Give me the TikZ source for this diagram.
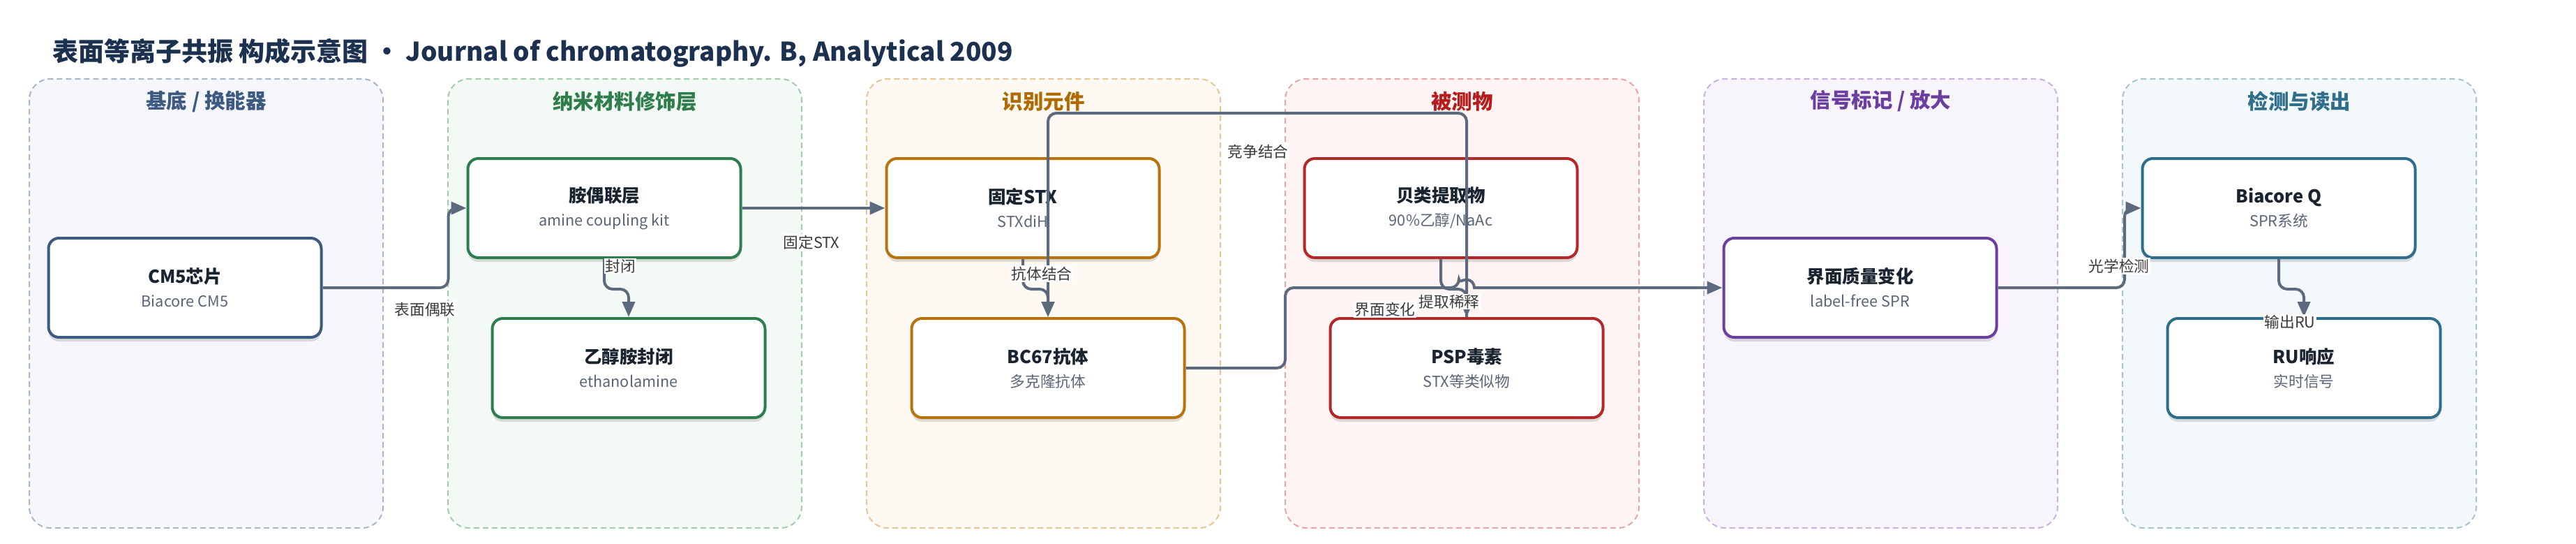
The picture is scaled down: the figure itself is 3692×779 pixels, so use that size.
\documentclass[tikz,border=0pt]{standalone}
\usepackage{fontspec}
\setmainfont{Noto Sans CJK SC}
\usetikzlibrary{arrows.meta,shadows}
\definecolor{edgec}{HTML}{5D6A7E}
\definecolor{labc}{HTML}{3A3A3A}
\definecolor{titc}{HTML}{1C3050}
\definecolor{ntc}{HTML}{1A2330}
\definecolor{subc}{HTML}{5B6578}
\definecolor{laneAf}{HTML}{F5F7FB}\definecolor{laneAd}{HTML}{AAB6C9}\definecolor{laneAt}{HTML}{3D5A80}
\definecolor{laneBf}{HTML}{F3F9F5}\definecolor{laneBd}{HTML}{A3CCAE}\definecolor{laneBt}{HTML}{2E7D4A}
\definecolor{laneCf}{HTML}{FEF9F2}\definecolor{laneCd}{HTML}{E8C592}\definecolor{laneCt}{HTML}{B26A00}
\definecolor{laneDf}{HTML}{FDF4F3}\definecolor{laneDd}{HTML}{E8A6A6}\definecolor{laneDt}{HTML}{B71C1C}
\definecolor{laneEf}{HTML}{F8F4FC}\definecolor{laneEd}{HTML}{C8B3E0}\definecolor{laneEt}{HTML}{6A3FA0}
\definecolor{laneFf}{HTML}{F3F8FA}\definecolor{laneFd}{HTML}{A8C4CE}\definecolor{laneFt}{HTML}{2F6F8C}
\definecolor{nA}{HTML}{3D5A80}
\definecolor{nB}{HTML}{2E7D4F}
\definecolor{nC}{HTML}{B8730D}
\definecolor{nD}{HTML}{B3282A}
\definecolor{nE}{HTML}{6B3FA0}
\definecolor{nF}{HTML}{2E6E8C}
\newcommand{\nodetext}[2]{{\fontsize{25.5}{34}\selectfont\bfseries\color{ntc}#1}\\{\fontsize{21.7}{34}\selectfont\color{subc}#2}}
\tikzset{
  lanebox/.style n args={2}{draw=#1, fill=#2, line width=2pt, dash pattern=on 8pt off 5pt, rounded corners=30pt},
  lanetitle/.style={font=\fontsize{29.5}{34}\selectfont\bfseries, text=#1},
  nbox/.style={draw=#1, fill=white, line width=4pt, rounded corners=15pt, minimum width=391pt, minimum height=142pt, align=center, inner sep=0pt, font=\fontsize{21.7}{34}\selectfont, drop shadow={shadow xshift=0pt, shadow yshift=-6pt, opacity=0.12, fill=black}},
  conn/.style={draw=edgec, line width=4pt, rounded corners=12pt, -{Triangle[length=22pt,width=18pt]}},
  lab/.style={fill=white, inner sep=1.5pt, font=\fontsize{21.7}{26}\selectfont, text=labc},
}
\begin{document}
\begin{tikzpicture}[x=1pt,y=-1pt]
\useasboundingbox (0,0) rectangle (3692,779);
\fill[white] (0,0) rectangle (3692,779);
% title
\node[anchor=west, inner sep=0pt, font=\fontsize{37}{42}\selectfont\bfseries, text=titc] (title) at (75,76) {表面等离子共振 构成示意图 · Journal of chromatography. B, Analytical 2009};
% lanes
\draw[lanebox={laneAd}{laneAf}] (42,113) rectangle (549,756);
\draw[lanebox={laneBd}{laneBf}] (642,113) rectangle (1149,756);
\draw[lanebox={laneCd}{laneCf}] (1242,113) rectangle (1749,756);
\draw[lanebox={laneDd}{laneDf}] (1842,113) rectangle (2349,756);
\draw[lanebox={laneEd}{laneEf}] (2442,113) rectangle (2949,756);
\draw[lanebox={laneFd}{laneFf}] (3042,113) rectangle (3549,756);
\node[lanetitle=laneAt] (tA) at (295.5,145) {基底 / 换能器};
\node[lanetitle=laneBt] (tB) at (895.5,145) {纳米材料修饰层};
\node[lanetitle=laneCt] (tC) at (1495.5,145) {识别元件};
\node[lanetitle=laneDt] (tD) at (2095.5,145) {被测物};
\node[lanetitle=laneEt] (tE) at (2695.5,145) {信号标记 / 放大};
\node[lanetitle=laneFt] (tF) at (3295.5,145) {检测与读出};
% nodes
\node[nbox=nA] (cm5) at (265,412) {\nodetext{CM5芯片}{Biacore CM5}};
\node[nbox=nB] (amine) at (866,298) {\nodetext{胺偶联层}{amine coupling kit}};
\node[nbox=nB] (etha) at (901,527) {\nodetext{乙醇胺封闭}{ethanolamine}};
\node[nbox=nC] (stx) at (1466,298) {\nodetext{固定STX}{STXdiH}};
\node[nbox=nC] (bc67) at (1502,527) {\nodetext{BC67抗体}{多克隆抗体}};
\node[nbox=nD] (shell) at (2065,298) {\nodetext{贝类提取物}{90\%乙醇/NaAc}};
\node[nbox=nD] (psp) at (2102,527) {\nodetext{PSP毒素}{STX等类似物}};
\node[nbox=nE] (mass) at (2666,412) {\nodetext{界面质量变化}{label-free SPR}};
\node[nbox=nF] (biaq) at (3266,298) {\nodetext{Biacore Q}{SPR系统}};
\node[nbox=nF] (ru) at (3302,527) {\nodetext{RU响应}{实时信号}};
% connectors
\draw[conn] (cm5.east) -- ++(180,0) |- (amine.west);
\draw[conn] (amine.south) -- ++(0,43) -| (etha.north);
\draw[conn] (amine.east) -- (stx.west);
\draw[conn] (stx.south) -- ++(0,43) -| (bc67.north);
\draw[conn] (psp.north) -- ++(0,-292) -| (bc67.north);
\draw[conn] (shell.south) -- ++(0,43) -| (psp.north);
\draw[conn] (bc67.east) -- (1842,527) -- (1842,412) -- (2091,412) [sharp corners] .. controls (2091,405.5) and (2096,400.5) .. (2102,400.5) .. controls (2108,400.5) and (2113,405.5) .. (2113,412) -- (mass.west);
\draw[conn] (mass.east) -- ++(181.5,0) |- (biaq.west);
\draw[conn] (biaq.south) -- ++(0,43) -| (ru.north);
% labels
\node[lab] (l1) at (609,443) {表面偶联};
\node[lab] (l2) at (889,381) {封闭};
\node[lab] (l3) at (1163,347) {固定STX};
\node[lab] (l4) at (1493,392) {抗体结合};
\node[lab] (l5) at (1803,217) {竞争结合};
\node[lab] (l6) at (2077,432) {提取稀释};
\node[lab] (l7) at (1985,443) {界面变化};
\node[lab] (l8) at (3037,381) {光学检测};
\node[lab] (l9) at (3282,461) {输出RU};
\end{tikzpicture}
\end{document}
